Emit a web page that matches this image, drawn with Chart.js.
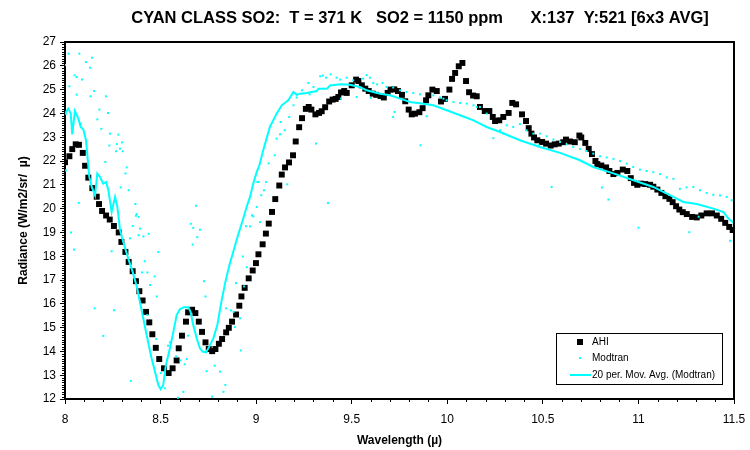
<!DOCTYPE html>
<html>
<head>
<meta charset="utf-8">
<script src="https://cdn.jsdelivr.net/npm/chart.js@4.4.1/dist/chart.umd.min.js"></script>
<style>
  html, body { margin: 0; padding: 0; background: #fff; }
</style>
</head>
<body>
<canvas id="spec" width="750" height="450"></canvas>
<script>
// AHI measured radiance (wavelength in micron, radiance W/m2/sr/micron)
const ahiX = [8.000,8.023,8.038,8.056,8.073,8.093,8.105,8.122,8.143,8.166,8.178,8.194,8.215,8.234,8.256,8.281,8.295,8.316,8.333,8.354,
  8.371,8.389,8.406,8.424,8.441,8.457,8.475,8.493,8.518,8.542,8.563,8.584,8.595,8.612,8.633,8.644,8.665,8.682,8.700,8.717,
  8.735,8.752,8.770,8.787,8.805,8.822,8.843,8.857,8.874,8.895,8.912,8.923,8.940,8.961,8.982,8.999,9.012,9.034,9.051,9.066,
  9.083,9.100,9.121,9.134,9.151,9.172,9.193,9.207,9.225,9.240,9.260,9.275,9.289,9.310,9.329,9.343,9.361,9.382,9.400,9.416,
  9.430,9.444,9.461,9.474,9.500,9.523,9.535,9.553,9.571,9.589,9.610,9.628,9.651,9.668,9.688,9.703,9.723,9.742,9.763,9.780,
  9.798,9.814,9.831,9.854,9.871,9.889,9.901,9.922,9.945,9.967,9.988,10.011,10.025,10.041,10.060,10.079,10.098,10.114,10.135,10.154,
  10.171,10.196,10.220,10.238,10.250,10.272,10.293,10.321,10.340,10.360,10.391,10.412,10.426,10.440,10.454,10.471,10.496,10.517,10.541,10.562,
  10.583,10.607,10.621,10.642,10.667,10.691,10.701,10.722,10.740,10.757,10.775,10.785,10.806,10.831,10.848,10.869,10.890,10.918,10.942,10.960,
  10.977,10.994,11.012,11.036,11.061,11.078,11.099,11.120,11.141,11.162,11.179,11.197,11.214,11.232,11.253,11.281,11.305,11.329,11.357,11.385,
  11.410,11.433,11.454,11.475,11.493];
const ahiY = [21.95,22.20,22.50,22.70,22.68,22.34,21.80,21.30,20.86,20.50,20.19,19.90,19.71,19.54,19.27,19.00,18.60,18.18,17.76,17.37,
  16.95,16.53,16.14,15.66,15.22,14.72,14.15,13.68,13.29,13.09,13.29,13.62,14.13,14.66,15.25,15.64,15.75,15.61,15.25,14.82,
  14.38,14.10,14.01,14.10,14.32,14.52,14.80,14.99,15.25,15.55,15.92,16.31,16.67,17.07,17.40,17.71,18.08,18.50,18.95,19.37,
  19.86,20.40,20.97,21.43,21.73,21.94,22.24,22.82,23.42,23.80,24.19,24.27,24.16,23.96,24.02,24.09,24.26,24.50,24.58,24.61,
  24.69,24.88,24.94,24.86,25.18,25.42,25.36,25.18,25.04,24.94,24.83,24.78,24.73,24.67,24.86,25.00,25.01,24.94,24.78,24.51,
  24.16,23.96,23.99,24.05,24.22,24.55,24.76,25.00,24.94,24.50,24.61,25.00,25.45,25.70,25.98,26.12,25.36,24.89,24.75,24.72,
  24.27,24.10,24.10,23.85,23.68,23.71,23.85,24.02,24.44,24.38,23.96,23.68,23.38,23.15,22.99,22.87,22.80,22.73,22.65,22.70,
  22.73,22.79,22.90,22.82,22.79,23.07,22.99,22.76,22.51,22.29,22.00,21.87,21.81,21.73,21.58,21.45,21.50,21.64,21.58,21.28,
  21.08,21.00,21.05,21.03,21.00,20.92,20.80,20.66,20.52,20.41,20.27,20.10,19.96,19.85,19.77,19.65,19.63,19.71,19.80,19.80,
  19.71,19.57,19.40,19.23,19.10];

// Modtran simulated radiance points
const modX = [8.000,8.005,8.005,8.019,8.023,8.031,8.047,8.050,8.061,8.061,8.072,8.075,8.082,8.089,8.110,8.131,8.134,8.141,8.152,8.155,
  8.169,8.180,8.190,8.200,8.211,8.215,8.225,8.232,8.236,8.244,8.256,8.267,8.271,8.279,8.288,8.291,8.298,8.302,8.316,8.323,
  8.333,8.340,8.344,8.354,8.368,8.371,8.375,8.385,8.385,8.392,8.403,8.410,8.417,8.431,8.431,8.438,8.445,8.469,8.477,8.480,
  8.488,8.501,8.522,8.539,8.549,8.581,8.591,8.605,8.619,8.626,8.637,8.644,8.658,8.668,8.671,8.685,8.692,8.706,8.727,8.735,
  8.741,8.770,8.783,8.811,8.829,8.839,8.843,8.868,8.882,8.889,8.895,8.916,8.920,8.930,8.937,8.947,8.951,8.968,8.978,8.985,
  9.003,9.006,9.013,9.020,9.027,9.041,9.052,9.066,9.097,9.107,9.125,9.128,9.149,9.163,9.173,9.195,9.212,9.240,9.273,9.280,
  9.300,9.313,9.335,9.349,9.366,9.376,9.390,9.421,9.440,9.444,9.474,9.508,9.526,9.560,9.578,9.595,9.600,9.613,9.633,9.661,
  9.682,9.717,9.717,9.724,9.753,9.787,9.822,9.857,9.860,9.892,9.927,9.962,9.980,9.997,10.032,10.067,10.102,10.137,10.154,10.171,
  10.206,10.241,10.276,10.293,10.311,10.345,10.380,10.415,10.450,10.478,10.485,10.520,10.546,10.555,10.590,10.624,10.659,10.694,10.729,10.764,
  10.799,10.809,10.834,10.843,10.869,10.904,10.939,10.973,11.000,11.008,11.043,11.078,11.113,11.148,11.183,11.217,11.252,11.266,11.287,11.315,
  11.322,11.357,11.392,11.427,11.462,11.480,11.488];
const modY = [26.03,23.99,21.60,26.51,25.14,19.00,18.28,25.60,25.53,24.79,20.24,26.51,23.57,25.42,26.16,25.92,24.72,26.34,24.94,15.81,
  23.75,24.16,23.35,14.65,21.96,24.72,24.02,22.65,23.15,18.21,15.73,22.41,22.71,23.11,22.52,20.89,22.78,22.41,21.48,21.73,
  20.77,18.75,12.76,19.27,20.19,19.70,19.77,19.65,18.88,19.16,17.32,18.83,17.79,17.32,15.53,18.94,16.79,17.15,14.52,16.31,
  18.18,13.09,12.45,14.24,14.38,13.79,12.05,13.62,12.30,13.46,13.68,14.66,19.36,18.49,19.19,20.12,18.80,19.11,16.95,16.31,
  13.17,12.10,13.40,13.15,12.30,12.59,15.81,15.72,15.66,15.02,16.87,15.39,14.04,17.99,16.73,19.26,17.54,19.25,19.72,19.67,
  20.07,21.12,21.12,19.43,20.56,20.77,21.12,21.90,22.24,22.94,23.12,23.64,23.29,21.02,23.85,24.34,24.67,24.97,25.28,24.80,
  25.11,22.73,25.56,25.59,25.50,20.24,25.64,25.50,25.42,24.62,25.50,25.39,24.69,25.46,25.61,25.50,24.65,25.28,25.22,25.28,
  25.11,25.09,23.85,24.06,24.97,24.90,24.86,24.80,22.66,23.88,24.76,24.67,24.62,24.55,24.48,24.44,24.41,24.34,24.27,24.27,
  23.99,22.96,23.29,23.15,23.50,23.43,23.55,23.29,23.15,22.66,23.15,23.04,20.91,22.90,22.80,22.70,22.59,22.51,22.42,22.31,
  22.20,20.89,22.15,20.38,22.09,22.00,21.89,21.75,19.20,21.64,21.58,21.53,21.45,21.31,21.25,20.83,20.89,19.01,20.91,19.66,
  20.77,20.66,20.58,20.55,20.49,18.65,20.35];

// 20 period moving average of the Modtran points
const avgX = [8.000,8.017,8.030,8.038,8.052,8.070,8.082,8.096,8.110,8.127,8.140,8.157,8.169,8.183,8.200,8.215,8.227,8.244,8.262,8.274,
  8.288,8.305,8.331,8.354,8.378,8.399,8.420,8.438,8.453,8.471,8.488,8.500,8.514,8.528,8.549,8.567,8.584,8.602,8.623,8.645,
  8.657,8.671,8.689,8.706,8.720,8.738,8.755,8.776,8.797,8.818,8.839,8.860,8.880,8.905,8.930,8.950,8.968,8.985,9.003,9.017,
  9.037,9.072,9.107,9.134,9.168,9.195,9.212,9.230,9.265,9.317,9.326,9.370,9.387,9.440,9.490,9.543,9.578,9.649,9.700,9.753,
  9.805,9.875,9.927,9.997,10.067,10.137,10.206,10.276,10.380,10.485,10.590,10.694,10.764,10.869,10.974,11.078,11.183,11.235,11.305,11.392,
  11.444,11.470,11.500];
const avgY = [23.99,24.20,23.99,23.12,24.10,23.78,23.43,23.32,22.87,21.33,20.91,20.56,21.47,21.33,21.05,21.12,20.77,19.86,20.49,20.07,
  19.10,18.60,17.90,17.34,16.65,15.80,14.97,14.27,13.71,13.15,12.59,12.42,12.59,13.43,14.13,14.82,15.53,15.78,15.86,15.86,
  15.66,15.11,14.55,14.13,13.99,13.96,14.20,14.55,15.11,16.08,16.92,17.62,18.18,18.88,19.51,20.07,20.49,21.05,21.54,21.82,
  22.45,23.43,23.99,24.34,24.55,24.90,24.78,24.83,24.86,24.94,25.04,25.04,25.17,25.22,25.20,25.11,24.97,24.83,24.76,24.62,
  24.48,24.41,24.34,24.13,23.92,23.71,23.43,23.22,22.87,22.59,22.34,22.03,21.75,21.48,21.19,20.91,20.49,20.28,20.19,20.00,
  19.86,19.59,19.38];

const xMin = 8, xMax = 11.5, xStep = 0.5;
const yMin = 12, yMax = 27, yStep = 1;

const titleText = 'CYAN CLASS SO2:  T = 371 K   SO2 = 1150 ppm      X:137  Y:521 [6x3 AVG]';
const FONT = '"Liberation Sans", Arial, sans-serif';

function pts(xs, ys) {
  return xs.map((v, i) => ({ x: v, y: ys[i] }));
}

// title, plot frame, minor ticks and the boxed legend
const decor = {
  id: 'decor',
  afterDraw(chart) {
    const { ctx, chartArea: a, scales: { x, y } } = chart;
    ctx.save();

    ctx.fillStyle = '#000';
    ctx.font = 'bold 16.5px ' + FONT;
    ctx.textAlign = 'center';
    ctx.textBaseline = 'middle';
    ctx.fillText(titleText, 420, 18);

    ctx.strokeStyle = '#000';
    ctx.lineWidth = 1;
    ctx.beginPath();
    for (let i = xMin * 10; i <= xMax * 10; i++) {
      if (i % 5 === 0) continue;
      const px = Math.round(x.getPixelForValue(i / 10)) + 0.5;
      ctx.moveTo(px, a.bottom);
      ctx.lineTo(px, a.bottom + 3);
    }
    for (let i = yMin * 10; i <= yMax * 10; i++) {
      if (i % 10 === 0) continue;
      const py = Math.round(y.getPixelForValue(i / 10)) + 0.5;
      ctx.moveTo(a.left - 3, py);
      ctx.lineTo(a.left, py);
    }
    ctx.stroke();

    ctx.lineWidth = 2;
    ctx.beginPath();
    ctx.moveTo(a.left, a.top);
    ctx.lineTo(a.right, a.top);
    ctx.lineTo(a.right, a.bottom);
    ctx.stroke();

    // legend
    const ds = chart.data.datasets;
    const bx = a.right - 178, by = a.bottom - 66, bw = 166, bh = 51;
    ctx.fillStyle = '#fff';
    ctx.fillRect(bx, by, bw, bh);
    ctx.lineWidth = 1;
    ctx.strokeStyle = '#000';
    ctx.strokeRect(bx + 0.5, by + 0.5, bw, bh);
    ctx.font = '10px ' + FONT;
    ctx.textAlign = 'left';
    ctx.textBaseline = 'middle';
    const rows = [by + 9, by + 25, by + 42];
    const mx = bx + 24, tx = bx + 36;
    ctx.fillStyle = ds[0].backgroundColor;
    ctx.fillRect(mx - 3, rows[0] - 3, 6, 6);
    ctx.fillStyle = ds[1].backgroundColor;
    ctx.fillRect(mx - 1, rows[1] - 1, 2, 2);
    ctx.strokeStyle = ds[2].borderColor;
    ctx.lineWidth = 2;
    ctx.beginPath();
    ctx.moveTo(bx + 14, rows[2]);
    ctx.lineTo(bx + 35, rows[2]);
    ctx.stroke();
    ctx.fillStyle = '#000';
    ds.forEach((d, i) => ctx.fillText(d.label, tx, rows[i]));

    ctx.restore();
  }
};

const axisFont = { family: FONT, size: 12 };
const titleFont = { family: FONT, size: 12, weight: 'bold' };

new Chart(document.getElementById('spec'), {
  type: 'scatter',
  data: {
    datasets: [
      {
        label: 'AHI',
        data: pts(ahiX, ahiY),
        pointStyle: 'rect',
        pointRadius: 4.2,
        borderWidth: 0,
        backgroundColor: '#000',
        borderColor: '#000',
        order: 3
      },
      {
        label: 'Modtran',
        data: pts(modX, modY),
        pointStyle: 'rect',
        pointRadius: 1.4,
        borderWidth: 0,
        backgroundColor: '#00ffff',
        borderColor: '#00ffff',
        order: 2
      },
      {
        label: '20 per. Mov. Avg. (Modtran)',
        data: pts(avgX, avgY),
        showLine: true,
        pointRadius: 0,
        borderWidth: 2,
        borderColor: '#00ffff',
        backgroundColor: '#00ffff',
        tension: 0,
        order: 1
      }
    ]
  },
  options: {
    responsive: false,
    animation: false,
    layout: { padding: { top: 42, right: 16, left: 0, bottom: 0 } },
    plugins: {
      legend: { display: false },
      tooltip: { enabled: false }
    },
    scales: {
      x: {
        type: 'linear',
        min: xMin,
        max: xMax,
        afterFit: s => { s.height = 51; s.paddingLeft = 0; s.paddingRight = 0; },
        ticks: { stepSize: xStep, color: '#000', font: axisFont, padding: 8, callback: v => String(+v.toFixed(1)) },
        grid: { drawOnChartArea: false, tickLength: 5, tickColor: '#000', tickWidth: 1 },
        border: { display: true, color: '#000', width: 2 },
        title: { display: true, text: 'Wavelength (µ)', color: '#000', font: titleFont, padding: { top: 0, bottom: 2 } }
      },
      y: {
        type: 'linear',
        min: yMin,
        max: yMax,
        afterFit: s => { s.width = 65; s.paddingTop = 0; s.paddingBottom = 0; },
        ticks: { stepSize: yStep, color: '#000', font: axisFont, padding: 4 },
        grid: { drawOnChartArea: false, tickLength: 5, tickColor: '#000', tickWidth: 1 },
        border: { display: true, color: '#000', width: 2 },
        title: { display: true, text: 'Radiance (W/m2/sr/  µ)', color: '#000', font: titleFont, padding: { top: 16, bottom: 0 } }
      }
    }
  },
  plugins: [decor]
});
</script>
</body>
</html>
